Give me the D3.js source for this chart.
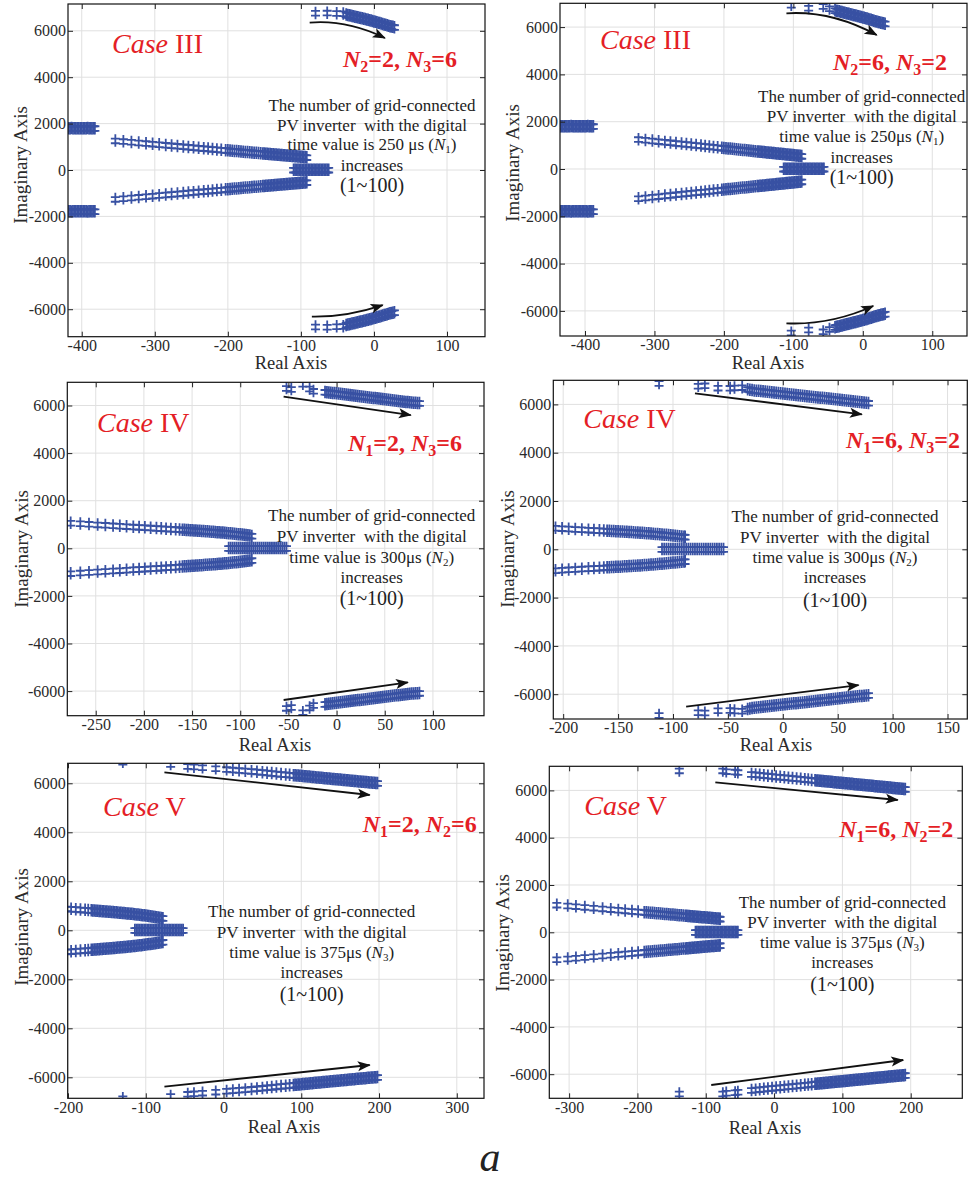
<!DOCTYPE html>
<html><head><meta charset="utf-8">
<script src="https://cdn.jsdelivr.net/npm/d3@7"></script>
<style>body{margin:0;background:#fff} text{white-space:pre;font-family:'Liberation Serif','Times New Roman',serif}</style>
</head><body>
<svg id="c" width="968" height="1183" xmlns="http://www.w3.org/2000/svg"></svg>
<script>
// ---------------- DATA (roots in the upper half-plane; their conjugates are drawn too) ----------------
const yTicks = [-6000,-4000,-2000,0,2000,4000,6000];
const xTicks1 = [-400,-300,-200,-100,0,100];
const xTicks2 = [-400,-300,-200,-100,0,100];
const xTicks3 = [-250,-200,-150,-100,-50,0,50,100];
const xTicks4 = [-200,-150,-100,-50,0,50,100,150];
const xTicks5 = [-200,-100,0,100,200,300];
const xTicks6 = [-300,-200,-100,0,100,200];

const caseNames = ["III","III","IV","IV","V","V"];
const fixedN = [["2","2","3","6"],["2","6","3","2"],["1","2","3","6"],["1","6","3","2"],["1","2","2","6"],["1","6","2","2"]];
const varyInfo = [["250 μs","1"],["250μs","1"],["300μs","2"],["300μs","2"],["375μs","3"],["375μs","3"]];

// Panel 1 : Case III, N2=2, N3=6
const p1Cplx = [[-354,1260],[-343,1230],[-332,1200],[-322,1172],[-312,1145],[-303,1120],[-294,1095],[-285,1070],[-277,1048],[-269,1026],[-261,1004],[-254,985],[-247,966],[-240,946],[-233,927],[-227,911],[-221,894],[-215,878],[-209,861],[-203,845],
 [-200,837],[-197,828],[-194,820],[-191,812],[-188,803],[-185,795],[-182,787],[-179,779],[-176,770],[-173,762],[-170,754],[-167,746],[-164,737],[-161,729],[-158,721],[-155,713],[-152,704],
 [-150,699],[-148,693],[-146,688],[-144,682],[-142,677],[-140,671],[-138,666],[-136,660],[-134,655],[-132,649],[-130,644],[-128,638],[-126,633],[-124,627],[-122,622],[-120,616],[-118,611],[-116,605],[-114,600],[-112,594],[-110,589],[-108,583],[-106,578],[-104,572],[-102,567],[-100,561],[-98,556],[-96,550],[-94,545],[-92,539]];
const p1Hf = [[-80,6760],[-64,6770],[-51,6750],[-42,6740],[-38,6690],[-36,6675],[-34,6660],[-32,6645],[-30,6630],[-28,6615],[-26,6600],[-24,6585],[-22,6570],[-20,6555],[-18,6540],[-16,6525],[-14,6510],[-12,6495],[-10,6480],[-8,6463],[-6,6447],[-4,6430],[-2,6410],[0,6392],[2,6375],[4,6355],[6,6337],[8,6320],[10,6300],[12,6282],[14,6265],[16,6245],[18,6225],[20,6205],[22,6190],[24,6175],[26,6160],[28,6145]];
const p1Real = [-110,-108,-106,-104,-102,-100,-98,-96,-94,-92,-90,-88,-86,-84,-82,-80,-78,-76,-74,-72,-70,-68,-66,-64,-62];
const p1Side = [[-422,1790],[-420,1790],[-418,1792],[-416,1790],[-414,1795],[-412,1790],[-410,1788],[-408,1790],[-406,1792],[-404,1790],[-402,1785],[-400,1790],[-398,1790],[-396,1792],[-394,1790],[-392,1800],[-390,1790],[-388,1788],[-386,1785],[-384,1790],[-382,1790]];
const p1Arrows = [[[-88,6350],[-38,6487],[15,5690]], [[-85,-6320],[-38,-6345],[12,-5820]]];

// Panel 2 : Case III, N2=6, N3=2
const p2Cplx = [[-323,1250],[-313,1220],[-303,1190],[-294,1163],[-285,1135],[-277,1111],[-269,1087],[-261,1063],[-254,1042],[-247,1021],[-240,1000],[-233,979],[-227,961],[-221,943],[-215,924],[-209,906],[-203,888],
 [-200,879],[-197,870],[-194,860],[-191,851],[-188,842],[-185,833],[-182,824],[-179,815],[-176,806],[-173,797],[-170,788],[-167,779],[-164,770],[-161,761],[-158,752],[-155,743],[-152,734],
 [-150,728],[-148,721],[-146,715],[-144,709],[-142,703],[-140,697],[-138,691],[-136,685],[-134,679],[-132,673],[-130,667],[-128,661],[-126,655],[-124,649],[-122,643],[-120,637],[-118,631],[-116,625],[-114,619],[-112,613],[-110,607],[-108,601],[-106,595],[-104,589],[-102,583],[-100,577],[-98,570],[-96,564],[-94,558],[-92,552],[-90,546],[-88,540]];
const p2Hf = [[-103,6930],[-78,6800],[-57,6880],[-48,6780],[-40,6700],[-38,6685],[-36,6670],[-34,6655],[-32,6640],[-30,6625],[-28,6610],[-26,6595],[-24,6580],[-22,6565],[-20,6550],[-18,6535],[-16,6520],[-14,6505],[-12,6490],[-10,6475],[-8,6460],[-6,6445],[-4,6430],[-2,6415],[0,6400],[2,6383],[4,6367],[6,6350],[8,6330],[10,6312],[12,6295],[14,6278],[16,6260],[18,6240],[20,6223],[22,6206],[24,6190],[26,6176],[28,6163],[30,6150],[32,6135]];
const p2Real = [-114,-112,-110,-108,-106,-104,-102,-100,-98,-96,-94,-92,-90,-88,-86,-84,-82,-80,-78,-76,-74,-72,-70,-68,-66,-64,-62,-60,-58,-56];
const p2Side = [[-440,1800],[-438,1800],[-436,1800],[-434,1798],[-432,1795],[-430,1800],[-428,1800],[-426,1802],[-424,1800],[-422,1800],[-420,1805],[-418,1800],[-416,1800],[-414,1798],[-412,1800],[-410,1800],[-408,1795],[-406,1800],[-404,1800],[-402,1802],[-400,1800],[-398,1800],[-396,1805],[-394,1800],[-392,1800],[-390,1800],[-388,1800]];
const p2Arrows = [[[-110,6584],[-45,6704],[20,5666]], [[-110,-6525],[-47,-6611],[15,-5793]]];

// Panel 3 : Case IV, N1=2, N3=6
const p3Cplx = [[-276,1060],[-266,1035],[-257,1012],[-248,990],[-240,970],[-232,950],[-225,932],[-218,915],[-211,898],[-205,884],[-199,869],[-193,855],[-187,840],[-182,828],[-177,816],[-172,804],[-167,792],[-163,782],
 [-160,773],[-158,768],[-156,763],[-154,758],[-152,752],[-150,747],[-148,742],[-146,736],[-144,730],[-142,725],[-140,719],[-138,713],[-136,707],[-134,701],[-132,695],[-130,689],[-128,683],[-126,676],[-124,669],[-122,663],[-120,656],[-118,649],[-116,641],[-114,634],[-112,626],[-110,618],[-108,610],[-106,601],[-104,593],[-102,584],[-100,575],[-98,565],[-96,555],[-94,545],[-92,535],[-90,523],[-88,510]];
const p3Hf = [[-52,6720],[-47,6680],[-35,6900],[-28,6700],[-24,6600],[-12,6560],[-10,6550],[-8,6540],[-6,6530],[-4,6520],[-2,6510],[0,6500],[2,6490],[4,6480],[6,6470],[8,6460],[10,6450],[12,6440],[14,6430],[16,6420],[18,6410],[20,6400],[22,6390],[24,6380],[26,6370],[28,6360],[30,6350],[32,6340],[34,6330],[36,6320],[38,6310],[40,6300],[42,6290],[44,6280],[46,6270],[48,6260],[50,6250],[52,6240],[54,6230],[56,6220],[58,6210],[60,6200],[62,6190],[64,6180],[66,6170],[68,6160],[70,6150],[72,6140],[74,6132],[76,6124],[78,6116],[80,6109],[82,6102],[84,6096],[86,6090]];
const p3Real = [-112,-110,-108,-106,-104,-102,-100,-98,-96,-94,-92,-90,-88,-86,-84,-82,-80,-78,-76,-74,-72,-70,-68,-66,-64,-62,-60,-58,-56,-54,-52];
const p3Arrows = [[[-55,6370],[77,5600]], [[-55,-6374],[74,-5630]]];

// Panel 4 : Case IV, N1=6, N3=2
const p4Cplx = [[-207,880],[-201,862],[-195,845],[-189,829],[-183,814],[-177,799],[-172,787],[-167,775],[-163,765],
 [-160,758],[-158,753],[-156,748],[-154,743],[-152,738],[-150,733],[-148,728],[-146,723],[-144,717],[-142,712],[-140,706],[-138,701],[-136,695],[-134,689],[-132,683],[-130,677],[-128,670],[-126,663],[-124,657],[-122,650],[-120,643],[-118,635],[-116,628],[-114,621],[-112,613],[-110,605],[-108,597],[-106,589],[-104,580],[-102,571],[-100,562],[-98,553],[-96,543],[-94,533],[-92,522],[-90,511],[-89,505]];
const p4Hf = [[-112.7,6874],[-77,6760],[-71,6775],[-59,6680],[-48,6670],[-44,6690],[-37,6700],[-32,6620],[-30,6600],[-28,6583],[-26,6570],[-24,6560],[-22,6550],[-20,6540],[-18,6530],[-16,6520],[-14,6510],[-12,6500],[-10,6490],[-8,6480],[-6,6470],[-4,6460],[-2,6450],[0,6440],[2,6430],[4,6420],[6,6410],[8,6400],[10,6390],[12,6380],[14,6370],[16,6360],[18,6350],[20,6340],[22,6330],[24,6320],[26,6310],[28,6300],[30,6290],[32,6280],[34,6270],[36,6260],[38,6250],[40,6240],[42,6230],[44,6220],[46,6210],[48,6200],[50,6190],[52,6180],[54,6170],[56,6160],[58,6150],[60,6140],[62,6130],[64,6120],[66,6110],[68,6100],[70,6090],[72,6080],[74,6070],[76,6060],[78,6050]];
const p4Real = [-110,-108,-106,-104,-102,-100,-98,-96,-94,-92,-90,-88,-86,-84,-82,-80,-78,-76,-74,-72,-70,-68,-66,-64,-62,-60,-58,-56,-54];
const p4Arrows = [[[-80,6460],[72,5590]], [[-88,-6518],[69,-5620]]];

// Panel 5 : Case V, N1=2, N2=6
const p5Cplx = [[-202,880],[-196,866],[-190,852],[-184,838],[-178,824],[-174,815],
 [-170,806],[-168,801],[-166,796],[-164,791],[-162,786],[-160,781],[-158,776],[-156,771],[-154,766],[-152,761],[-150,756],[-148,751],[-146,745],[-144,740],[-142,734],[-140,729],[-138,723],[-136,717],[-134,711],[-132,705],[-130,699],[-128,693],[-126,687],[-124,680],[-122,674],[-120,667],[-118,661],[-116,654],[-114,647],[-112,639],[-110,632],[-108,624],[-106,616],[-104,608],[-102,600],[-100,592],[-98,583],[-96,574],[-94,565],[-92,556],[-90,546],[-88,536],[-86,526],[-84,515],[-82,505],[-80,495],[-78,485]];
const p5Hf = [[-129.5,6870],[-68,6776],[-46,6690],[-38,6670],[-27,6640],[-10,6600],[4,6565],[12,6545],[20,6525],[28,6505],[36,6485],[43,6465],[50,6445],[56,6425],[62,6405],[68,6385],[74,6365],[80,6350],[85,6337],
 [90,6322],[92,6316],[94,6310],[96,6305],[98,6299],[100,6293],[102,6287],[104,6281],[106,6275],[108,6269],[110,6262],[112,6256],[114,6250],[116,6244],[118,6237],[120,6231],[122,6225],[124,6219],[126,6212],[128,6206],[130,6200],[132,6194],[134,6188],[136,6182],[138,6176],[140,6170],[142,6164],[144,6158],[146,6152],[148,6146],[150,6140],[152,6134],[154,6128],[156,6122],[158,6116],[160,6110],[162,6104],[164,6098],[166,6092],[168,6086],[170,6080],[172,6074],[174,6068],[176,6062],[178,6056],[180,6050],[182,6044],[184,6038],[186,6032],[188,6026],[190,6020],[192,6015],[194,6010],[196,6005],[198,6000]];
const p5Real = [-114,-112,-110,-108,-106,-104,-102,-100,-98,-96,-94,-92,-90,-88,-86,-84,-82,-80,-78,-76,-74,-72,-70,-68,-66,-64,-62,-60,-58,-56,-54,-52];
const p5Arrows = [[[-76,6449],[188,5522]], [[-76,-6384],[188,-5498]]];

// Panel 6 : Case V, N1=6, N2=2
const p6Cplx = [[-318,1154],[-302,1120],[-290,1090],[-277,1060],[-264,1028],[-251,995],[-239,965],[-228,937],[-218,912],[-208,887],[-199,865],
 [-190,842],[-187,835],[-184,827],[-181,820],[-178,812],[-175,805],[-172,797],[-169,790],[-166,782],[-163,775],[-160,767],[-157,759],[-154,752],[-151,744],[-148,737],[-145,729],[-142,722],[-139,714],[-136,707],[-133,699],[-130,691],[-128,686],[-126,681],[-124,676],[-122,671],[-120,666],[-118,661],[-116,656],[-114,651],[-112,646],[-110,641],[-108,636],[-106,631],[-104,626],[-102,621],[-100,615],[-98,610],[-96,605],[-94,600],[-92,595],[-90,590],[-88,585],[-86,580],[-84,575],[-82,570],[-80,565],[-79,560]];
const p6Hf = [[-138.7,6830],[-75,6830],[-70,6800],[-57,6780],[-53,6760],[-33,6680],[-27,6663],[-21,6646],[-15,6629],[-9,6612],[-3,6595],[3,6578],[9,6562],[15,6545],[21,6528],[27,6511],[33,6494],[39,6477],[45,6460],[50,6446],[55,6432],
 [60,6418],[62,6412],[64,6406],[66,6401],[68,6395],[70,6390],[72,6384],[74,6378],[76,6373],[78,6367],[80,6361],[82,6356],[84,6350],[86,6344],[88,6339],[90,6333],[92,6327],[94,6322],[96,6316],[98,6311],[100,6305],[102,6299],[104,6294],[106,6288],[108,6283],[110,6277],[112,6271],[114,6266],[116,6260],[118,6254],[120,6249],[122,6243],[124,6237],[126,6232],[128,6226],[130,6220],[132,6215],[134,6209],[136,6203],[138,6198],[140,6192],[142,6187],[144,6181],[146,6175],[148,6170],[150,6164],[152,6158],[154,6153],[156,6147],[158,6141],[160,6136],[162,6130],[164,6125],[166,6119],[168,6113],[170,6108],[172,6102],[174,6096],[176,6091],[178,6085],[180,6080],[182,6074],[184,6068],[186,6063],[188,6057],[190,6052],[192,6046]];
const p6Real = [-115,-113,-111,-109,-107,-105,-103,-101,-99,-97,-95,-93,-91,-89,-87,-85,-83,-81,-79,-77,-75,-73,-71,-69,-67,-65,-63,-61,-59,-57,-55,-53];
const p6Arrows = [[[-86,6342],[181,5594]], [[-92,-6457],[189,-5400]]];

// ---------------- LAYOUT ----------------
const layout = [
 {frame:[68,4,485,336.7], xDom:[-418.8,152], yDom:[-7185,7155], xTicks:xTicks1, upper:[p1Cplx,p1Hf,p1Side], real:p1Real, arrows:p1Arrows,
  caseXY:[112,53], nXY:[457,67], block:[372,[105,125,144,165,185]], xl:[291,369], yl:[27,165]},
 {frame:[560,3.3,967,336], xDom:[-436,150], yDom:[-7061,7006], xTicks:xTicks2, upper:[p2Cplx,p2Hf,p2Side], real:p2Real, arrows:p2Arrows,
  caseXY:[600,49], nXY:[947,70], block:[861.7,[96,116,136,156.7,176.7]], xl:[768,369], yl:[519,163]},
 {frame:[67.3,382.3,484,715.7], xDom:[-279.5,153], yDom:[-7034,6975], xTicks:xTicks3, upper:[p3Cplx,p3Hf], real:p3Real, arrows:p3Arrows,
  caseXY:[97,432], nXY:[462,451], block:[371.7,[515,536,556.7,576.7,597.7]], xl:[275,751], yl:[28,549]},
 {frame:[553.3,380.3,967.3,719], xDom:[-209,168], yDom:[-7027,6998], xTicks:xTicks4, upper:[p4Cplx,p4Hf], real:p4Real, arrows:p4Arrows,
  caseXY:[583.3,428.3], nXY:[960,447.7], block:[835,[515.7,536.7,557.3,577.3,600]], xl:[776,751], yl:[514,549]},
 {frame:[67.7,763.3,484,1098.3], xDom:[-200.4,335], yDom:[-6857,6816], xTicks:xTicks5, upper:[p5Cplx,p5Hf], real:p5Real, arrows:p5Arrows,
  caseXY:[103,816], nXY:[476.7,831.7], block:[311.7,[911,931.7,952.3,972.3,994.3]], xl:[284,1132.5], yl:[28,927]},
 {frame:[549.3,766.3,962.3,1098.3], xDom:[-329,275.5], yDom:[-7019,7019], xTicks:xTicks6, upper:[p6Cplx,p6Hf], real:p6Real, arrows:p6Arrows,
  caseXY:[584.3,815], nXY:[953.3,836.7], block:[842.3,[901.7,921.7,942.3,962.3,984.3]], xl:[765,1134], yl:[509,933]}
];

const SERIF = "'Liberation Serif','Times New Roman',serif";
const RED = "#e41e26";
const BLUE = "#3851a3";
const glyph = "M-4.5,-2.2H4.5M-4.5,2.5H4.5M0,-6.5V6";

const svg = d3.select('#c');
const defs = svg.append('defs');
defs.append('marker').attr('id','ah').attr('viewBox','-14 -7 16 14')
  .attr('markerUnits','userSpaceOnUse').attr('markerWidth',16).attr('markerHeight',14)
  .attr('refX',0).attr('refY',0).attr('orient','auto')
  .append('path').attr('d','M1,0 L-12,-5 L-9,0 L-12,5 Z').attr('fill','#111');

layout.forEach((p,i)=>{
  const [L,T,R,B] = p.frame;
  const x = d3.scaleLinear().domain(p.xDom).range([L,R]);
  const y = d3.scaleLinear().domain(p.yDom).range([B,T]);
  const g = svg.append('g');

  // grid
  g.append('g').selectAll('line').data(p.xTicks).join('line')
    .attr('x1',d=>x(d)).attr('x2',d=>x(d)).attr('y1',T).attr('y2',B)
    .attr('stroke','#e0e0e0').attr('stroke-width',1);
  g.append('g').selectAll('line').data(yTicks).join('line')
    .attr('y1',d=>y(d)).attr('y2',d=>y(d)).attr('x1',L).attr('x2',R)
    .attr('stroke','#e0e0e0').attr('stroke-width',1);

  // clip
  defs.append('clipPath').attr('id','cp'+i).append('rect')
    .attr('x',L).attr('y',T).attr('width',R-L).attr('height',B-T);
  const pg = g.append('g').attr('clip-path',`url(#cp${i})`);

  const pts = [];
  p.upper.forEach(arr=>arr.forEach(([re,im])=>{pts.push([re,im]); pts.push([re,-im]);}));
  p.real.forEach(re=>pts.push([re,0]));
  pg.append('g').selectAll('path').data(pts).join('path')
    .attr('transform',d=>`translate(${x(d[0])},${y(d[1])})`)
    .attr('d',glyph).attr('fill','none').attr('stroke',BLUE).attr('stroke-width',1.8);

  // arrows
  p.arrows.forEach(a=>{
    let d;
    if (a.length===3) d = `M${x(a[0][0])},${y(a[0][1])}Q${x(a[1][0])},${y(a[1][1])} ${x(a[2][0])},${y(a[2][1])}`;
    else d = `M${x(a[0][0])},${y(a[0][1])}L${x(a[1][0])},${y(a[1][1])}`;
    g.append('path').attr('d',d).attr('fill','none').attr('stroke','#111')
      .attr('stroke-width',1.8).attr('marker-end','url(#ah)');
  });

  // frame
  g.append('rect').attr('x',L).attr('y',T).attr('width',R-L).attr('height',B-T)
    .attr('fill','none').attr('stroke','#111').attr('stroke-width',1.2);

  // axes (inward ticks on all four sides)
  const styleAx = s=>{ s.select('.domain').remove(); s.attr('font-family',SERIF).attr('font-size',16).attr('color','#222');
    s.selectAll('text').attr('fill','#2a2a2a'); };
  g.append('g').attr('transform',`translate(0,${B})`)
    .call(d3.axisBottom(x).tickValues(p.xTicks).tickSize(-5).tickPadding(3).tickFormat(d=>String(d))).call(styleAx);
  g.append('g').attr('transform',`translate(0,${T})`)
    .call(d3.axisTop(x).tickValues(p.xTicks).tickSize(-5).tickFormat('')).call(styleAx);
  g.append('g').attr('transform',`translate(${L},0)`)
    .call(d3.axisLeft(y).tickValues(yTicks).tickSize(-5).tickPadding(2).tickFormat(d=>String(d))).call(styleAx);
  g.append('g').attr('transform',`translate(${R},0)`)
    .call(d3.axisRight(y).tickValues(yTicks).tickSize(-5).tickFormat('')).call(styleAx);

  // axis titles
  g.append('text').attr('x',p.xl[0]).attr('y',p.xl[1]).attr('text-anchor','middle')
    .attr('font-family',SERIF).attr('font-size',18.5).attr('fill','#2a2a2a').text('Real Axis');
  g.append('text').attr('transform',`translate(${p.yl[0]},${p.yl[1]}) rotate(-90)`).attr('text-anchor','middle')
    .attr('font-family',SERIF).attr('font-size',19).attr('fill','#2a2a2a').text('Imaginary Axis');

  // Case label
  const ct = g.append('text').attr('x',p.caseXY[0]).attr('y',p.caseXY[1])
    .attr('font-family',SERIF).attr('font-size',28).attr('fill',RED);
  ct.append('tspan').attr('font-style','italic').text('Case');
  ct.append('tspan').text(' '+caseNames[i]);

  // fixed-N label
  const f = fixedN[i];
  const nt = g.append('text').attr('x',p.nXY[0]).attr('y',p.nXY[1]).attr('text-anchor','end')
    .attr('font-family',SERIF).attr('font-size',24).attr('font-weight','bold').attr('fill',RED);
  nt.append('tspan').attr('font-style','italic').text('N');
  nt.append('tspan').attr('font-size',16).attr('dy',5).text(f[0]);
  nt.append('tspan').attr('dy',-5).text('='+f[1]+', ');
  nt.append('tspan').attr('font-style','italic').text('N');
  nt.append('tspan').attr('font-size',16).attr('dy',5).text(f[2]);
  nt.append('tspan').attr('dy',-5).text('='+f[3]);

  // description block
  const [cx, ys] = p.block;
  const mk = (yy,size)=>g.append('text').attr('x',cx).attr('y',yy).attr('text-anchor','middle')
    .attr('font-family',SERIF).attr('font-size',size).attr('fill','#222');
  mk(ys[0]+6,17).text('The number of grid-connected');
  mk(ys[1]+6,17).text('PV inverter  with the digital');
  const l3 = mk(ys[2]+6,17);
  l3.append('tspan').text('time value is '+varyInfo[i][0]+' (');
  l3.append('tspan').attr('font-style','italic').text('N');
  l3.append('tspan').attr('font-size',11).attr('dy',3).text(varyInfo[i][1]);
  l3.append('tspan').attr('dy',-3).text(')');
  mk(ys[3]+6,17).text('increases');
  mk(ys[4]+7,20).text('(1~100)');
});

svg.append('text').attr('x',490).attr('y',1171).attr('text-anchor','middle')
  .attr('font-family',SERIF).attr('font-style','italic').attr('font-size',42).attr('fill','#222').text('a');
</script>
</body></html>
